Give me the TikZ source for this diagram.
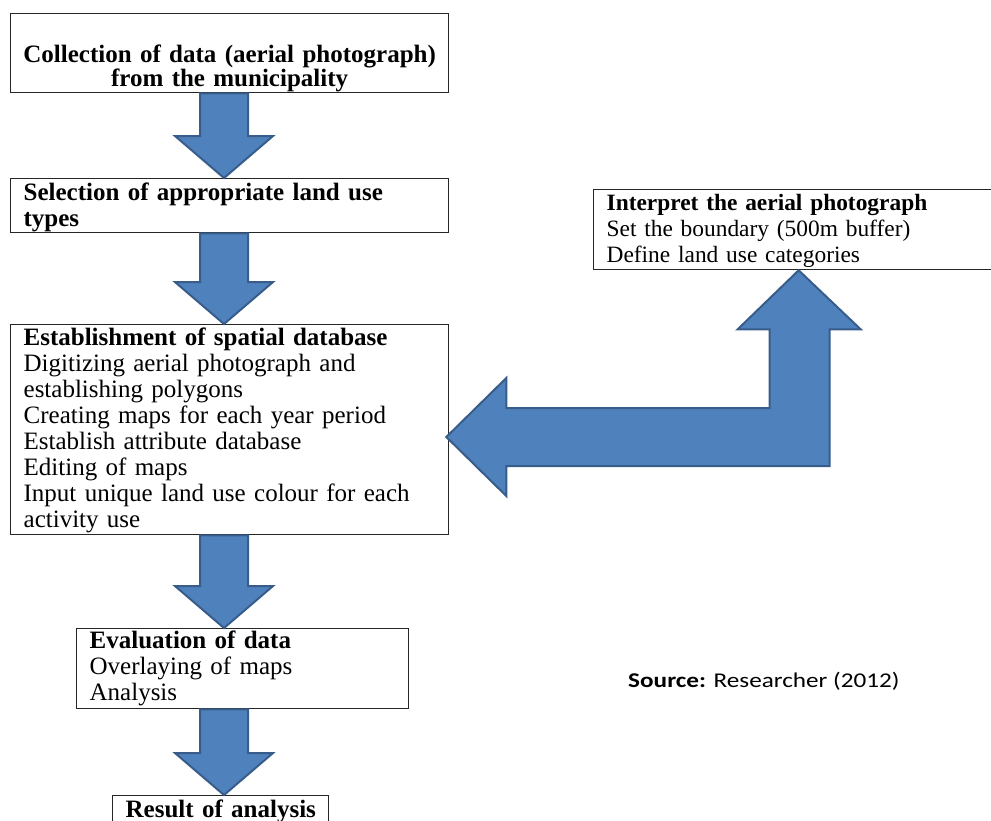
\documentclass[tikz,border=0pt]{standalone}
\usepackage{fontspec}
\setmainfont{Liberation Serif}
\newfontfamily\srcfont{Carlito}
\usetikzlibrary{calc}
\definecolor{arrowblue}{HTML}{4F81BD}
\definecolor{arrowline}{HTML}{385D8A}
\tikzset{
	stepbox/.style={draw=black!85, line width=1.3pt, anchor=north west, inner xsep=13pt, inner ysep=0pt, align=left, font=\fontsize{25}{26}\selectfont},
	blockarrow/.style={fill=arrowblue, draw=arrowline, line width=2pt, line join=miter}
}
\def\blockdown(#1)(#2){\path (224,0 |- #1.south) coordinate (s) (224,0 |- #2.north) coordinate (t);
	\draw[blockarrow] ($(s)+(-24,0)$) -- ($(t)+(-24,-42)$) -- ($(t)+(-49,-42)$) -- (t) -- ($(t)+(49,-42)$) -- ($(t)+(24,-42)$) -- ($(s)+(24,0)$) -- cycle;}

\begin{document}
\begin{tikzpicture}[x=1pt, y=-1pt]
		%%%%% START %%%%%
		\useasboundingbox (0, 0) rectangle (991, 820);
		
		\node[stepbox, align=center, inner xsep=2pt, text width=434pt, text height=49pt, text depth=30pt, font=\fontsize{25}{24}\selectfont\bfseries] (collect) at (10, 13) {\mbox{Collection of data (aerial photograph)}\\from the municipality};
		\node[stepbox, text width=412pt, text height=22pt, text depth=32pt] (select) at (10, 178) {\textbf{Selection of appropriate land use}\\\textbf{types}};
		\node[stepbox, text width=412pt, text height=21pt, text depth=189pt] (spatial) at (10, 324) {\textbf{Establishment of spatial database}\\Digitizing aerial photograph and\\establishing polygons\\Creating maps for each year period\\Establish attribute database\\Editing of maps\\\mbox{Input unique land use colour for each}\\activity use};
		\node[stepbox, text width=306pt, text height=20pt, text depth=60pt] (evaluate) at (76, 628) {\textbf{Evaluation of data}\\Overlaying of maps\\Analysis};
		\node[stepbox, text width=190pt, text height=22pt, text depth=25pt] (result) at (112, 795) {\mbox{\textbf{Result of analysis}}};
		
		\node[stepbox, text width=384pt, text height=21pt, text depth=59pt, font=\fontsize{23.4}{26}\selectfont] (interpret) at (593, 189) {\textbf{Interpret the aerial photograph}\\Set the boundary (500m buffer)\\Define land use categories};
		
		\node[anchor=base west, inner sep=0pt, font=\srcfont\fontsize{21}{24}\selectfont, xscale=1.2, transform shape] (source) at (628, 687) {\textbf{Source:} Researcher (2012)};
		
		\blockdown(collect)(select)
		\blockdown(select)(spatial)
		\blockdown(spatial)(evaluate)
		\blockdown(evaluate)(result)
		
		\coordinate (lt) at ($(spatial.east |- 0,437)+(-3,0)$);
		\coordinate (ut) at (interpret.south);
		\draw[blockarrow] (lt) -- ($(lt)+(60,-59)$) -- ($(lt)+(60,-29)$) -- ($(ut |- lt)+(-29,-29)$) -- ($(ut)+(-29,59)$) -- ($(ut)+(-61,59)$) -- (ut) -- ($(ut)+(62,59)$) -- ($(ut)+(31,59)$) -- ($(ut |- lt)+(31,29)$) -- ($(lt)+(60,29)$) -- ($(lt)+(60,59)$) -- cycle;
		
		%%%%% END %%%%%
	\end{tikzpicture}
\end{document}
